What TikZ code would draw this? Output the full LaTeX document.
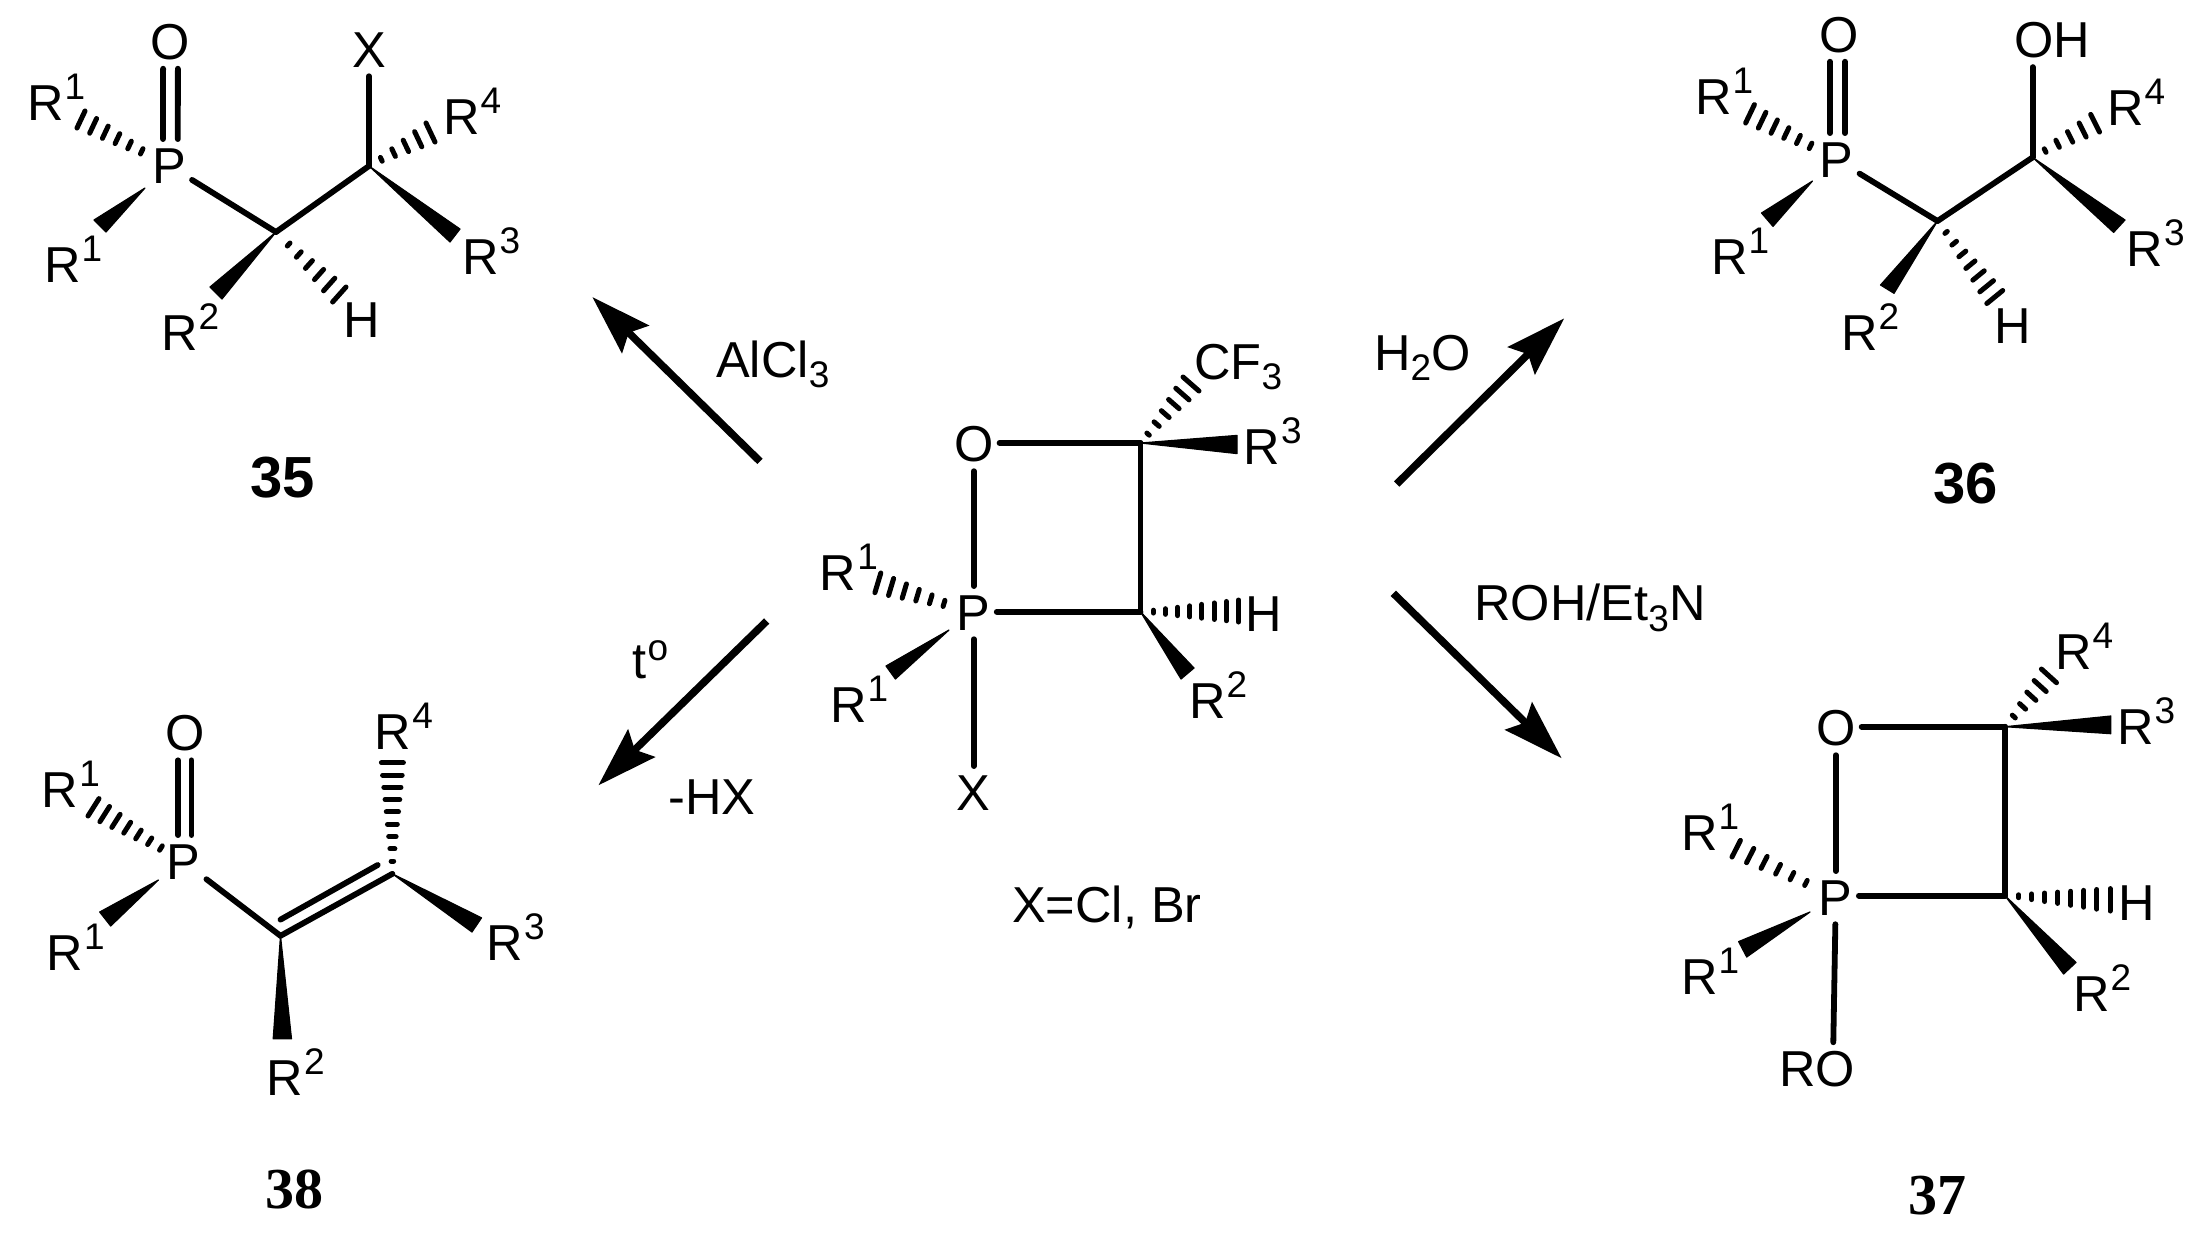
\documentclass[tikz,border=0pt]{standalone}
\usepackage{fontspec}
\setmainfont{Liberation Sans}
\newfontfamily\numserif{Liberation Serif}
\usetikzlibrary{calc,arrows.meta}
\newcommand{\Rr}[1]{R\kern1pt\raisebox{21pt}{\fontsize{37}{38}\selectfont #1}}
\newcommand{\Sb}[1]{\raisebox{-10.5pt}{\fontsize{37}{38}\selectfont #1}}
\newcommand{\Hash}[5]{%
  \foreach \i in {1,...,#4}{%
    \pgfmathsetmacro\hpos{#5+(1-#5)*(\i-1)/(#4-1)}%
    \draw[hashline] ($#1!\hpos!#2$) -- ($#1!\hpos!#3$);
  }}
\newcommand{\Wedge}[3]{\filldraw[line width=1.2pt,line join=round] #1 -- #2 -- #3 -- cycle;}
\tikzset{
  txt/.style={font=\fontsize{50.5}{51}\selectfont,text=black},
  atom/.style={txt,anchor=base,inner xsep=6pt,inner ysep=9pt},
  lab/.style={txt,anchor=base west,inner sep=0pt,xshift=-3pt},
  reag/.style={txt,anchor=base west,inner sep=0pt},
  ctr/.style={txt,anchor=base,inner sep=0pt},
  bond/.style={line width=5.8pt,line cap=round},
  hashline/.style={line width=5pt,line cap=round},
  rxn/.style={line width=7.5pt,-{Stealth[length=60pt,width=38pt,inset=9pt]}},
  numsans/.style={anchor=base,inner sep=0pt,font=\fontsize{58}{59}\selectfont\bfseries},
  numser/.style={anchor=base,inner sep=0pt,font=\fontsize{58}{59}\selectfont\numserif\bfseries},
}
\begin{document}
\begin{tikzpicture}[x=1pt,y=-1pt]
\useasboundingbox (0,0) rectangle (2192,1235);
% ---------- 35
\node[atom] (Oa) at (170.5,59) {O};
\node[atom] (Pa) at (169,183) {P};
\node[atom] (Xa) at (369,67) {X};
\coordinate (Cba) at (276,232);
\coordinate (Cca) at (369,166);
\node[lab] (R1a) at (30,120) {\Rr{1}};
\node[lab] (R1b) at (47,282) {\Rr{1}};
\node[lab] (R4a) at (446,134) {\Rr{4}};
\node[lab] (R3a) at (465,274) {\Rr{3}};
\node[lab] (R2a) at (164,350) {\Rr{2}};
\node[ctr] (Ha) at (362,337) {H};
\node[numsans] (n35) at (283,497) {35};
\draw[bond] ([xshift=-7.4pt]Oa.south) -- ([xshift=-6pt]Pa.north);
\draw[bond] ([xshift=7.4pt]Oa.south) -- ([xshift=8.8pt]Pa.north);
\draw[bond] (Pa) -- (Cba);
\draw[bond] (Cba) -- (Cca);
\draw[bond] (Xa) -- (Cca);
\Hash{(Pa.center)}{(77,128)}{(85,111)}{6}{0.31}
\Wedge{(145,188)}{(94,220)}{(106,232)}
\Hash{(Cca)}{(426,123)}{(435,142)}{5}{0.2}
\Wedge{(Cca)}{(460,229)}{(450,242)}
\Wedge{(Cba)}{(210,287)}{(222,299)}
\Hash{(Cba)}{(346,287)}{(332.6,302)}{6}{0.2}
% ---------- centre
\node[atom] (Oc) at (973.7,461.5) {O};
\node[atom] (Pc) at (973.7,630) {P};
\node[atom] (Xc) at (973.7,810) {X};
\coordinate (Cac) at (1140.5,443);
\coordinate (Cbc) at (1140.5,611.7);
\node[lab] (R1c) at (822.7,590.8) {\Rr{1}};
\node[lab] (R1d) at (833,722) {\Rr{1}};
\node[lab] (CF) at (1197,379) {CF\Sb{3}};
\node[lab] (R3c) at (1246.4,464) {\Rr{3}};
\node[ctr] (Hc) at (1264,631.5) {H};
\node[lab] (R2c) at (1192,718.4) {\Rr{2}};
\node[lab] (Xeq) at (1015,922) {X=Cl, Br};
\draw[bond] (Oc.east |- Cac) -- (Cac);
\draw[bond] (Cac) -- (Cbc);
\draw[bond] (Pc.east |- Cbc) -- (Cbc);
\draw[bond] (Oc) -- (Pc);
\draw[bond] (Pc) -- (Xc);
\Hash{(Pc.center)}{(874.9,592.7)}{(880.8,573)}{6}{0.31}
\Wedge{(949,630)}{(886,666)}{(895.4,679)}
\Hash{(Cac)}{(1183,377)}{(1199,391)}{6}{0.15}
\Wedge{(Cac)}{(1237,435.4)}{(1237,453.6)}
\Hash{(Cbc)}{(1238.5,600)}{(1238.5,622)}{8}{0.13}
\Wedge{(Cbc)}{(1194,668)}{(1181,679)}
% ---------- 36
\node[atom] (Ob) at (1839,52) {O};
\node[atom] (Pb) at (1836.5,177) {P};
\node[atom] (OH) at (2052,57.4) {OH};
\coordinate (Cbb) at (1937.5,221);
\coordinate (Ccb) at (2032.6,157.4);
\node[lab] (R1e) at (1698,114.4) {\Rr{1}};
\node[lab] (R1f) at (1714,274) {\Rr{1}};
\node[lab] (R4b) at (2110,125) {\Rr{4}};
\node[lab] (R3b) at (2129.4,266) {\Rr{3}};
\node[lab] (R2b) at (1844,350) {\Rr{2}};
\node[ctr] (Hb) at (2013,343) {H};
\node[numsans] (n36) at (1965.6,503) {36};
\draw[bond] ([xshift=-9pt]Ob.south) -- ([xshift=-6.5pt]Pb.north);
\draw[bond] ([xshift=6pt]Ob.south) -- ([xshift=8.5pt]Pb.north);
\draw[bond] (Pb) -- (Cbb);
\draw[bond] (Cbb) -- (Ccb);
\draw[bond] ([xshift=-19.4pt]OH.south) -- (Ccb);
\Hash{(Pb.center)}{(1745.6,123)}{(1754.4,104.6)}{6}{0.3}
\Wedge{(1812.5,181)}{(1761.5,213)}{(1773,226.4)}
\Hash{(Ccb)}{(2090.7,114.4)}{(2099.5,132)}{5}{0.2}
\Wedge{(Ccb)}{(2125,220)}{(2113.6,232.4)}
\Wedge{(Cbb)}{(1880.5,285)}{(1894,293.3)}
\Hash{(Cbb)}{(2002.7,290.5)}{(1986.8,303.5)}{7}{0.15}
% ---------- 37
\node[atom] (Od) at (1835.8,745.5) {O};
\node[atom] (Pd) at (1835.8,915) {P};
\node[atom] (RO) at (1817,1086.7) {RO};
\coordinate (Cad) at (2005,726.7);
\coordinate (Cbd) at (2005,895.7);
\node[lab] (R1g) at (1684,850.6) {\Rr{1}};
\node[lab] (R1h) at (1684,994.5) {\Rr{1}};
\node[lab] (R4d) at (2058,669) {\Rr{4}};
\node[lab] (R3d) at (2120,744) {\Rr{3}};
\node[ctr] (Hd) at (2136.5,920) {H};
\node[lab] (R2d) at (2076,1011) {\Rr{2}};
\node[numser] (n37) at (1937.5,1214) {37};
\draw[bond] (Od.east |- Cad) -- (Cad);
\draw[bond] (Cad) -- (Cbd);
\draw[bond] (Pd.east |- Cbd) -- (Cbd);
\draw[bond] (Od) -- (Pd);
\draw[bond] (Pd) -- ([xshift=16.3pt]RO.north);
\Hash{(Pd.center)}{(1732,857)}{(1740.4,840.4)}{6}{0.3}
\Wedge{(1810,912)}{(1738.6,941.6)}{(1746.7,957)}
\Hash{(Cad)}{(2041.4,669)}{(2056.5,682.7)}{5}{0.2}
\Wedge{(Cad)}{(2110.8,716)}{(2110.8,733.7)}
\Hash{(Cbd)}{(2110,888.6)}{(2110,911)}{8}{0.13}
\Wedge{(Cbd)}{(2076,962.4)}{(2063.6,974)}
% ---------- 38
\node[atom] (Oe) at (185,750.6) {O};
\node[atom] (Pe) at (183.4,879) {P};
\coordinate (Cbe) at (280.5,935.8);
\coordinate (Cce) at (392.4,873.8);
\coordinate (Dbe) at (280.5,919.6);
\coordinate (Dce) at (377.7,865);
\node[lab] (R1i) at (44.7,807.4) {\Rr{1}};
\node[lab] (R1j) at (49.5,970) {\Rr{1}};
\node[lab] (R4e) at (377.7,749.8) {\Rr{4}};
\node[lab] (R3e) at (489.5,960) {\Rr{3}};
\node[lab] (R2e) at (269.5,1095.3) {\Rr{2}};
\node[numser] (n38) at (294.5,1208) {38};
\draw[bond] ([xshift=-7pt]Oe.south) -- ([xshift=-5.4pt]Pe.north);
\draw[bond] ([xshift=6.4pt]Oe.south) -- ([xshift=8pt]Pe.north);
\draw[bond] (Pe) -- (Cbe);
\draw[bond] (Cbe) -- (Cce);
\draw[bond] (Dbe) -- (Dce);
\Hash{(Pe.center)}{(88,816)}{(99,798.6)}{7}{0.25}
\Wedge{(158.4,880)}{(99.7,912)}{(110.7,926)}
\Hash{(Cce)}{(381.4,762.7)}{(403.4,762.7)}{9}{0.115}
\Wedge{(Cce)}{(481.5,917.8)}{(472,932)}
\Wedge{(Cbe)}{(273.2,1038.8)}{(291.5,1038.8)}
% ---------- reactions
\coordinate (Aas) at (760,461.4);
\coordinate (Aae) at (592.3,297);
\coordinate (Abs) at (766.7,621);
\coordinate (Abe) at (598.3,785.4);
\coordinate (Acs) at (1396.7,484);
\coordinate (Ace) at (1564.3,318.3);
\coordinate (Ads) at (1393.3,593.3);
\coordinate (Ade) at (1561.7,758.3);
\draw[rxn] (Aas) -- (Aae);
\draw[rxn] (Abs) -- (Abe);
\draw[rxn] (Acs) -- (Ace);
\draw[rxn] (Ads) -- (Ade);
\node[reag] (AlCl) at (716,377) {AlCl\Sb{3}};
\node[reag] (tdeg) at (632,678) {t\kern1.5pt\raisebox{18pt}{\fontsize{37}{38}\selectfont o}};
\node[reag] (HX) at (668.3,814.6) {-HX};
\node[lab] (HHO) at (1377,370) {H\Sb{2}O};
\node[lab] (ROH) at (1477.3,620.7) {ROH/Et\Sb{3}N};
\end{tikzpicture}
\end{document}
